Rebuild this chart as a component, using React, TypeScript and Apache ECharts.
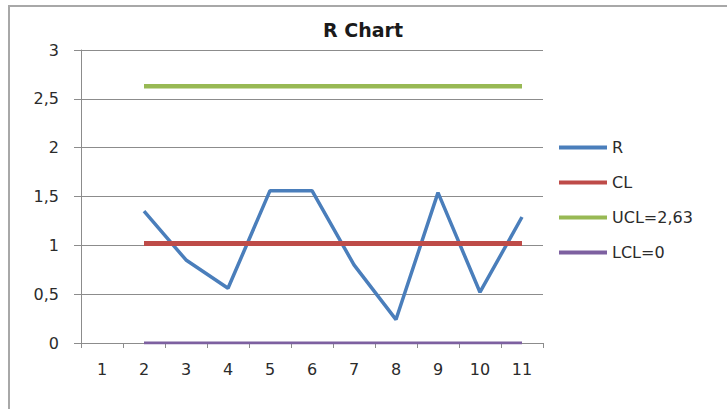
import React, { useEffect, useRef } from "react";
import * as echarts from "echarts";

// Subgroup numbers on the x axis
const categories: string[] = ["1", "2", "3", "4", "5", "6", "7", "8", "9", "10", "11"];

// Range of each subgroup (no range for the first one)
const rangeValues: (number | null)[] = [null, 1.35, 0.85, 0.56, 1.56, 1.56, 0.8, 0.24, 1.54, 0.52, 1.29];

// Control limits
const centerLine = 1.02;
const upperLimit = 2.63;
const lowerLimit = 0;

// Y axis ticks
const yMin = 0;
const yMax = 3;
const yStep = 0.5;

const seriesNames = ["R", "CL", "UCL=2,63", "LCL=0"];

const limitSeries = (value: number): (number | null)[] =>
  rangeValues.map((r) => (r === null ? null : value));

export default function App() {
  const ref = useRef<HTMLDivElement>(null);

  useEffect(() => {
    document.body.style.margin = "0";
    if (!ref.current) return;
    const chart = echarts.init(ref.current, undefined, { renderer: "svg" });
    const font = "DejaVu Sans";
    const gray = "#8c8c8c";
    const textColor = "#2b2b2b";

    chart.setOption({
      animation: false,
      backgroundColor: "#ffffff",
      textStyle: { fontFamily: font },
      title: {
        text: "R Chart",
        left: 358,
        top: 15,
        textAlign: "center",
        textStyle: { fontFamily: font, fontSize: 19, fontWeight: "bold", color: "#1a1a1a" },
      },
      graphic: [
        {
          type: "rect",
          shape: { x: 9, y: 6, width: 760, height: 450 },
          style: { fill: "none", stroke: "#a8a8a8", lineWidth: 2 },
          silent: true,
        },
      ],
      legend: {
        orient: "vertical",
        left: 554,
        top: 134,
        itemWidth: 48,
        itemHeight: 4,
        itemGap: 18,
        icon: "rect",
        data: seriesNames,
        textStyle: { fontFamily: font, fontSize: 16, color: textColor, lineHeight: 17 },
      },
      grid: { left: 81, right: 184, top: 50, bottom: 66, containLabel: false },
      xAxis: {
        type: "category",
        data: categories,
        boundaryGap: true,
        axisLine: { lineStyle: { color: gray, width: 1 } },
        axisTick: { show: true, length: 5, lineStyle: { color: gray } },
        axisLabel: { color: textColor, fontSize: 16, margin: 18, fontFamily: font },
        splitLine: { show: false },
      },
      yAxis: {
        type: "value",
        min: yMin,
        max: yMax,
        interval: yStep,
        axisLine: { show: true, lineStyle: { color: gray, width: 1 } },
        axisTick: { show: true, length: 7, lineStyle: { color: gray } },
        axisLabel: {
          color: textColor,
          fontSize: 16,
          margin: 22,
          fontFamily: font,
          formatter: (v: number) => String(v).replace(".", ","),
        },
        splitLine: { show: true, lineStyle: { color: gray, width: 1 } },
      },
      series: [
        {
          name: seriesNames[0],
          type: "line",
          data: rangeValues,
          symbol: "none",
          connectNulls: false,
          lineStyle: { color: "#4a7ebb", width: 3.5 },
          itemStyle: { color: "#4a7ebb" },
        },
        {
          name: seriesNames[1],
          type: "line",
          data: limitSeries(centerLine),
          symbol: "none",
          lineStyle: { color: "#be4b48", width: 5 },
          itemStyle: { color: "#be4b48" },
        },
        {
          name: seriesNames[2],
          type: "line",
          data: limitSeries(upperLimit),
          symbol: "none",
          lineStyle: { color: "#98b954", width: 4.5 },
          itemStyle: { color: "#98b954" },
        },
        {
          name: seriesNames[3],
          type: "line",
          data: limitSeries(lowerLimit),
          symbol: "none",
          lineStyle: { color: "#7d60a0", width: 3 },
          itemStyle: { color: "#7d60a0" },
        },
      ],
    });

    return () => chart.dispose();
  }, []);

  return (
    <div
      ref={ref}
      style={{ position: "absolute", left: 0, top: 0, width: 727, height: 409, background: "#fff" }}
    />
  );
}
